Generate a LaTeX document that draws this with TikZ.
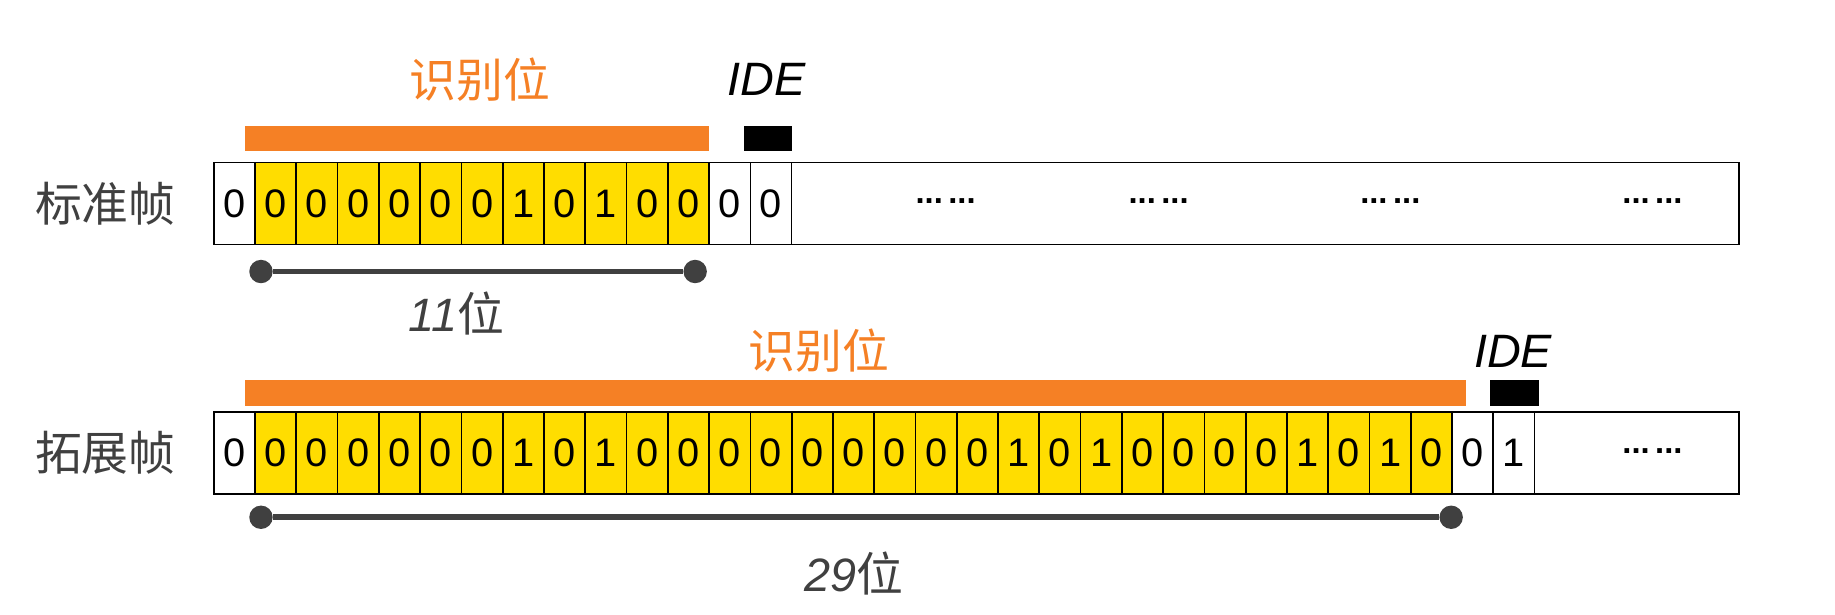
\documentclass[tikz,border=0pt]{standalone}
\usepackage{fontspec}
\setmainfont{Liberation Sans}
\newfontfamily\cjk{Noto Sans CJK SC}
\definecolor{org}{RGB}{245,128,37}
\definecolor{yel}{RGB}{255,221,0}
\definecolor{dk}{RGB}{64,64,64}
\begin{document}
\begin{tikzpicture}[x=0.5pt,y=-0.5pt,
  cell/.style={draw=black,line width=0.7pt,minimum width=17.6pt,minimum height=35pt,inner sep=0pt,font=\fontsize{17}{17}\selectfont,anchor=west},
  ycell/.style={cell,fill=yel},
  wcell/.style={cell,fill=white},
  bar/.style={fill=org},
  idebox/.style={fill=black},
  lab/.style={font=\cjk\fontsize{20}{20}\selectfont,text=dk},
  olab/.style={font=\cjk\fontsize{20}{20}\selectfont,text=org},
  ide/.style={font=\itshape\fontsize{20}{20}\selectfont},
  dim/.style={draw=dk,line width=2.5pt},
  dot/.style={circle,fill=dk,inner sep=0pt,minimum size=10pt},
  dots/.style={font=\bfseries\fontsize{14}{14}\selectfont}]
\useasboundingbox (0,0) rectangle (1568,525);
% row 1
\node[draw=black,line width=0.7pt,fill=white,minimum width=651.5pt,minimum height=35pt,inner sep=0pt,anchor=west] (r1) at (182,174) {};
\node[wcell] (a0) at (182,174) {0};
\foreach \b [count=\i from 1] in {0,0,0,0,0,0,1,0,1,0,0}{
  \node[ycell] (a\i) at ({182+35.27*\i},174) {\b};}
\node[wcell] (a12) at ({182+35.27*12},174) {0};
\node[wcell] (a13) at ({182+35.27*13},174) {0};
\foreach \x [count=\k] in {808,990,1188,1412} \node[dots] (d1\k) at (\x,172) {\textbf{...\,...}};
\node[lab] (l1) at (90,174) {标准帧};
\node[bar,minimum width=198.5pt,minimum height=10.5pt,inner sep=0pt] (o1) at (407.5,118.5) {};
\node[olab] (t1) at (410,68) {识别位};
\node[idebox,minimum width=20.5pt,minimum height=10.5pt,inner sep=0pt] (k1) at (656.5,118.5) {};
\node[ide] (i1) at (655,68) {IDE};
\node[dot] (p1) at (223,232) {};
\node[dot] (q1) at (594,232) {};
\draw[dim] (p1) -- (q1);
\node[font=\itshape\fontsize{20}{20}\selectfont,text=dk] (n1) at (390,268) {11{\cjk\upshape 位}};
% row 2
\node[draw=black,line width=0.7pt,fill=white,minimum width=651.5pt,minimum height=35pt,inner sep=0pt,anchor=west] (r2) at (182,387) {};
\node[wcell] (b0) at (182,387) {0};
\foreach \b [count=\i from 1] in {0,0,0,0,0,0,1,0,1,0,0,0,0,0,0,0,0,0,1,0,1,0,0,0,0,1,0,1,0,0}{
  \ifnum\i<30 \node[ycell] (b\i) at ({182+35.27*\i},387) {\b};\fi}
\node[wcell] (b30) at ({182+35.27*30},387) {0};
\node[wcell] (b31) at ({182+35.27*31},387) {1};
\node[dots] (d21) at (1412,385) {\textbf{...\,...}};
\node[lab] (l2) at (90,387) {拓展帧};
\node[bar,minimum width=522pt,minimum height=11pt,inner sep=0pt] (o2) at (731,336) {};
\node[olab] (t2) at (700,300) {识别位};
\node[idebox,minimum width=21pt,minimum height=11pt,inner sep=0pt] (k2) at (1294,336) {};
\node[ide] (i2) at (1293,300) {IDE};
\node[dot] (p2) at (223,442) {};
\node[dot] (q2) at (1240,442) {};
\draw[dim] (p2) -- (q2);
\node[font=\itshape\fontsize{20}{20}\selectfont,text=dk] (n2) at (730,490) {29{\cjk\upshape 位}};
\end{tikzpicture}
\end{document}
